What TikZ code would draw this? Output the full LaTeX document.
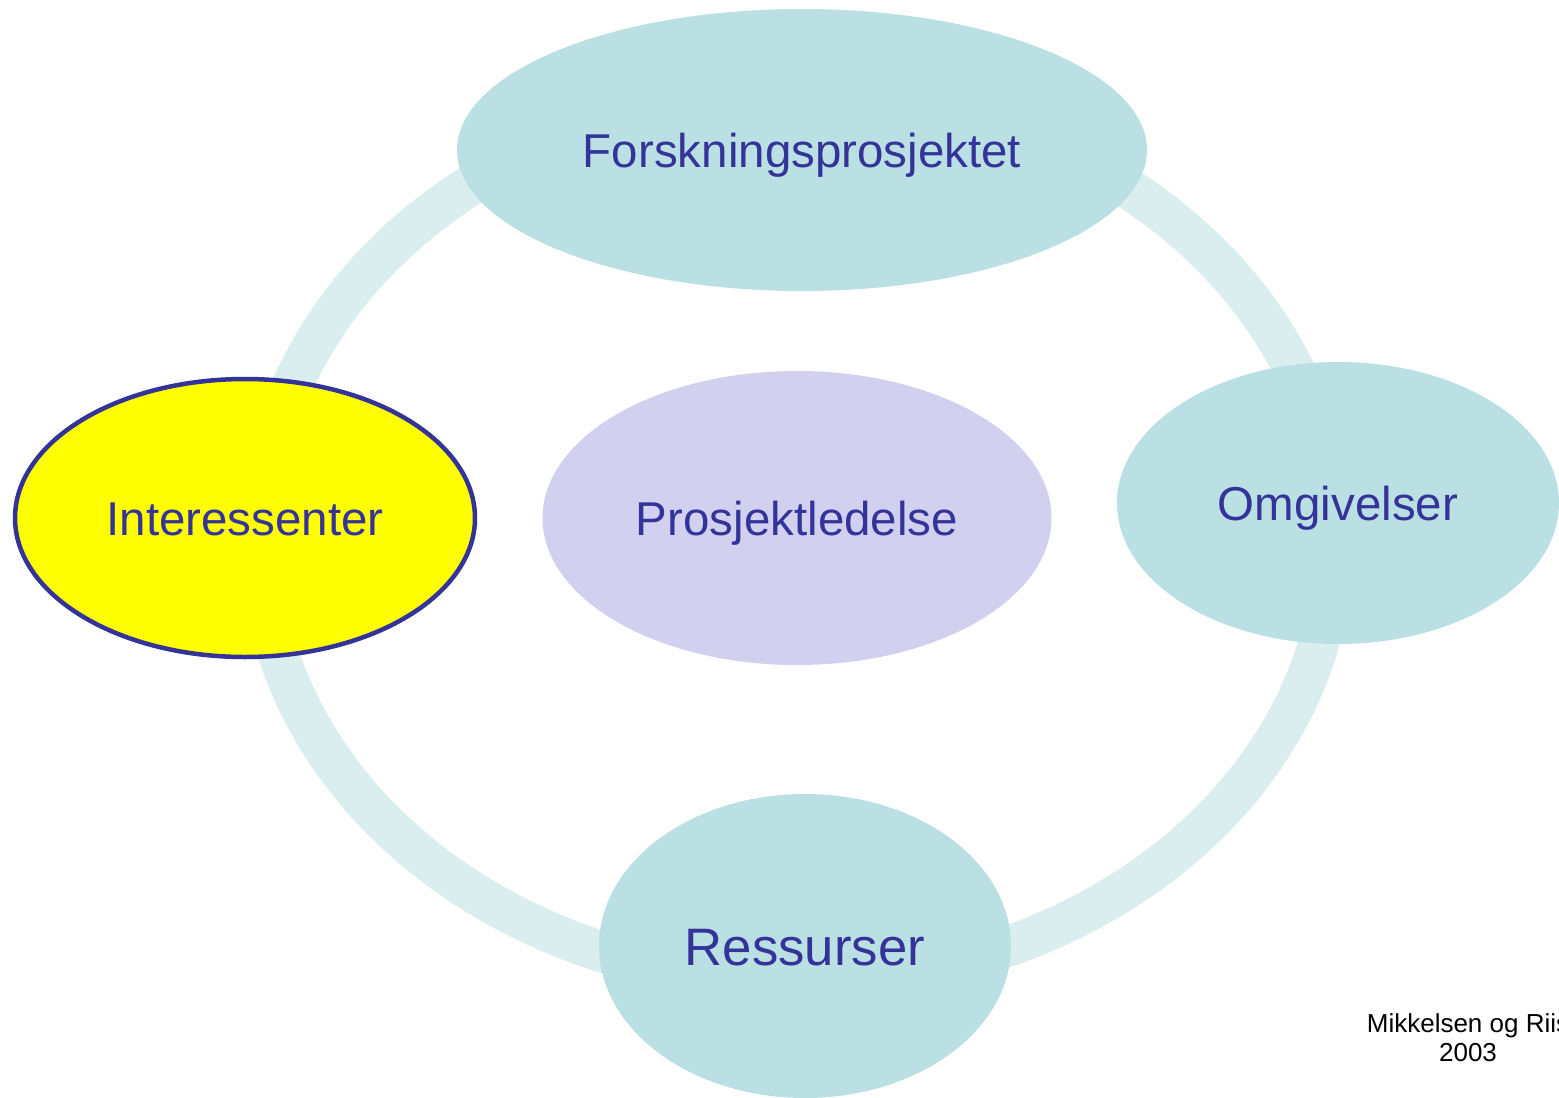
\documentclass[tikz,border=0pt]{standalone}
\usepackage{fontspec}
\setmainfont{Liberation Sans}
\usetikzlibrary{shapes.geometric}
\definecolor{ringcol}{HTML}{DBEEEF}
\definecolor{tealfill}{HTML}{BBE0E3}
\definecolor{lavfill}{HTML}{D1D1EF}
\definecolor{navytext}{HTML}{333399}
\definecolor{yel}{HTML}{FFFF00}
\tikzset{
  blob/.style={ellipse, inner sep=0pt, text=navytext, text height=34pt, text depth=0pt,
    font=\fontsize{47.5}{57}\selectfont},
  tealblob/.style={blob, fill=tealfill},
  ring/.style={line width=41pt, draw=ringcol},
  credit/.style={align=center, text=black, font=\fontsize{26}{29}\selectfont, inner sep=0pt}
}
\begin{document}
\begin{tikzpicture}[x=1pt,y=-1pt]
\useasboundingbox (0,0) rectangle (1559,1098);
\clip (0,0) rectangle (1559,1098);
\fill[white] (0,0) rectangle (1559,1098);
\coordinate (rc) at (797,538);
\draw[ring] (rc) ellipse [x radius=537, y radius=444];
\node[tealblob, minimum width=690pt, minimum height=282pt] (fp) at (802,150) {Forskningsprosjektet};
\node[blob, fill=yel, draw=navytext, line width=4.5pt, minimum width=460pt, minimum height=278pt] (int) at (245,518) {Interessenter};
\node[blob, fill=lavfill, minimum width=509pt, minimum height=294pt] (pl) at (797,518) {Prosjektledelse};
\node[tealblob, minimum width=442pt, minimum height=282pt] (om) at (1338,503) {Omgivelser};
\node[tealblob, minimum width=412pt, minimum height=304pt, text height=38pt, font=\fontsize{52.7}{60}\selectfont] (res) at (805,946) {Ressurser};
\node[credit, anchor=base] (cr) at (1468,1061) {Mikkelsen og Riis\\2003};
\end{tikzpicture}
\end{document}
